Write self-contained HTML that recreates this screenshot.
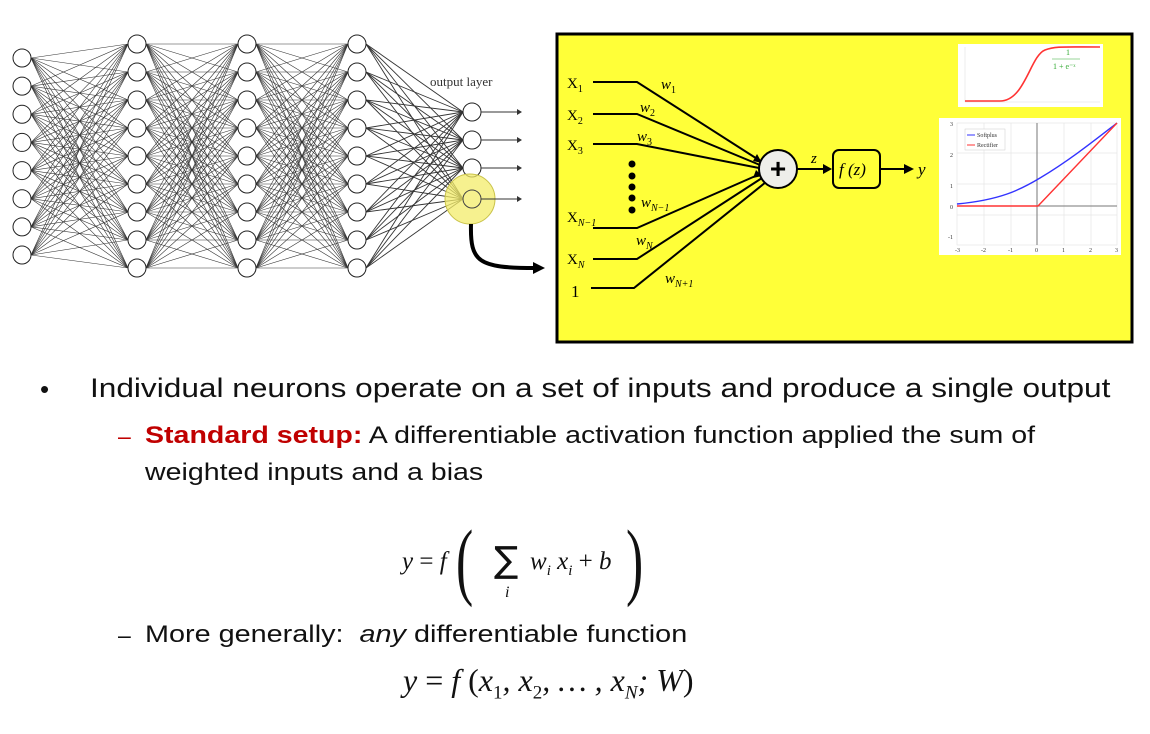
<!DOCTYPE html>
<html><head><meta charset="utf-8">
<style>
body{margin:0;width:1150px;height:734px;background:#fff;position:relative;overflow:hidden;font-family:"Liberation Sans",sans-serif;}
.t{position:absolute;white-space:nowrap;color:#111;}
.w{transform-origin:left top;}
.m{font-family:"Liberation Serif",serif;font-style:italic;}
</style></head><body>
<svg id="s" width="1150" height="734" style="position:absolute;left:0;top:0" xmlns="http://www.w3.org/2000/svg">
<g id="net" stroke="#333" stroke-width="0.6" fill="none"></g>
<g id="nodes" stroke="#222" stroke-width="1" fill="#fff"></g>
<circle cx="470" cy="199" r="25" fill="#f3ec6a" fill-opacity="0.75" stroke="#c9c24a"/>
<circle cx="472" cy="199" r="9" fill="none" stroke="#444"/>
<g stroke="#333" stroke-width="1">
<line x1="481" y1="112" x2="520" y2="112"/><line x1="481" y1="140" x2="520" y2="140"/>
<line x1="481" y1="168" x2="520" y2="168"/><line x1="481" y1="199" x2="520" y2="199"/>
</g>
<g fill="#333"><path d="M522 112l-5 -3v6z"/><path d="M522 140l-5 -3v6z"/><path d="M522 168l-5 -3v6z"/><path d="M522 199l-5 -3v6z"/></g>
<text x="430" y="86" font-family="Liberation Serif" font-size="13" fill="#333">output layer</text>
<path d="M471 224 C 470 262,478 268,535 268" stroke="#000" stroke-width="4" fill="none"/>
<path d="M545 268 l-12 -6 v12z" fill="#000"/>
<!-- yellow box -->
<rect x="557" y="34" width="575" height="308" fill="#ffff38" stroke="#000" stroke-width="3"/>
<g stroke="#000" stroke-width="2" fill="none">
<polyline points="593,82 637,82 762,162"/>
<polyline points="593,114 637,114 760,165"/>
<polyline points="593,144 637,144 759,168"/>
<polyline points="593,228 637,228 760,174"/>
<polyline points="593,259 637,259 762,178"/>
<polyline points="591,288 634,288 766,182"/>
<line x1="797" y1="169" x2="825" y2="169"/>
<line x1="880" y1="169" x2="905" y2="169"/>
</g>
<g fill="#000"><path d="M832 169l-9 -5v10z"/><path d="M914 169l-10 -5v10z"/><path d="M762 163l-9-2 4-7z"/><path d="M762 176l-9 2 3-8z"/></g>
<g fill="#000"><circle cx="632" cy="164" r="3.5"/><circle cx="632" cy="176" r="3.5"/><circle cx="632" cy="187" r="3.5"/><circle cx="632" cy="198" r="3.5"/><circle cx="632" cy="210" r="3.5"/></g>
<circle cx="778" cy="169" r="19" fill="#eeeeea" stroke="#000" stroke-width="2"/>
<text x="778" y="178" font-size="28" text-anchor="middle" font-weight="bold">+</text>
<rect x="833" y="150" width="47" height="38" rx="6" fill="#ffff38" stroke="#000" stroke-width="2"/>
<g font-family="Liberation Serif" font-size="15" fill="#000">
<text x="567" y="88">X<tspan font-size="10" dy="4">1</tspan></text>
<text x="567" y="120">X<tspan font-size="10" dy="4">2</tspan></text>
<text x="567" y="150">X<tspan font-size="10" dy="4">3</tspan></text>
<text x="567" y="222">X<tspan font-size="10" dy="4" font-style="italic">N−1</tspan></text>
<text x="567" y="264">X<tspan font-size="10" dy="4" font-style="italic">N</tspan></text>
<text x="571" y="297" font-size="17">1</text>
<g font-style="italic">
<text x="661" y="89">w<tspan font-size="10" dy="4" font-style="normal">1</tspan></text>
<text x="640" y="112">w<tspan font-size="10" dy="4" font-style="normal">2</tspan></text>
<text x="637" y="141">w<tspan font-size="10" dy="4" font-style="normal">3</tspan></text>
<text x="641" y="207">w<tspan font-size="10" dy="4">N−1</tspan></text>
<text x="636" y="245">w<tspan font-size="10" dy="4">N</tspan></text>
<text x="665" y="283">w<tspan font-size="10" dy="4">N+1</tspan></text>
<text x="811" y="163">z</text>
<text x="839" y="175" font-size="17">f (z)</text>
<text x="918" y="175" font-size="17">y</text>
</g></g>
<!-- sigmoid -->
<rect x="958" y="44" width="145" height="63" fill="#fff"/>
<g stroke="#ddd" stroke-width="0.5"><line x1="965" y1="47" x2="965" y2="102"/><line x1="965" y1="102" x2="1100" y2="102"/></g>
<path d="M965 101 L1000 101 C1025 101,1030 56,1045 50 C1055 46,1065 47,1100 47" stroke="#f33" stroke-width="1.6" fill="none"/>
<text x="1066" y="55" font-size="8" fill="#3a3" font-family="Liberation Serif">1</text>
<line x1="1052" y1="59" x2="1080" y2="59" stroke="#3a3" stroke-width="0.6"/>
<text x="1053" y="69" font-size="8" fill="#3a3" font-family="Liberation Serif">1 + e⁻ˣ</text>
<!-- relu -->
<rect x="939" y="118" width="182" height="137" fill="#fff"/>
<g stroke="#ddd" stroke-width="0.5" fill="none"><rect x="957" y="123" width="160" height="122"/>
<line x1="957" y1="153" x2="1117" y2="153"/><line x1="957" y1="184" x2="1117" y2="184"/><line x1="957" y1="215" x2="1117" y2="215"/>
<line x1="984" y1="123" x2="984" y2="245"/><line x1="1011" y1="123" x2="1011" y2="245"/><line x1="1064" y1="123" x2="1064" y2="245"/><line x1="1091" y1="123" x2="1091" y2="245"/></g>
<line x1="1037" y1="123" x2="1037" y2="245" stroke="#777"/><line x1="957" y1="206" x2="1117" y2="206" stroke="#777"/>
<path d="M957 204 C1000 200,1020 190,1040 178 C1070 160,1095 140,1117 123" stroke="#33f" stroke-width="1.4" fill="none"/>
<path d="M957 206 L1038 206 L1117 123" stroke="#f33" stroke-width="1.4" fill="none"/>
<rect x="965" y="129" width="40" height="21" fill="#fff" stroke="#ccc" stroke-width="0.5"/>
<line x1="967" y1="135" x2="975" y2="135" stroke="#33f"/><line x1="967" y1="145" x2="975" y2="145" stroke="#f33"/>
<g font-family="Liberation Serif" font-size="6" fill="#333"><text x="977" y="137">Softplus</text><text x="977" y="147">Rectifier</text>
<text x="950" y="126">3</text><text x="950" y="157">2</text><text x="950" y="188">1</text><text x="950" y="209">0</text><text x="948" y="239">-1</text>
<text x="955" y="252">-3</text><text x="981" y="252">-2</text><text x="1008" y="252">-1</text><text x="1035" y="252">0</text><text x="1062" y="252">1</text><text x="1089" y="252">2</text><text x="1115" y="252">3</text></g>
</svg>
<div class="t" style="left:40px;top:374px;font-size:26px">•</div>
<div class="t w" style="left:90px;top:373px;font-size:27px;transform:scaleX(1.17)">Individual neurons operate on a set of inputs and produce a single output</div>
<div class="t" style="left:118px;top:423px;font-size:23px;color:#c00000">–</div>
<div class="t w" style="left:145px;top:422px;font-size:24px;transform:scaleX(1.19)"><b style="color:#c00000">Standard setup:</b> A differentiable activation function applied the sum of</div>
<div class="t w" style="left:145px;top:459px;font-size:24px;transform:scaleX(1.19)">weighted inputs and a bias</div>
<div class="t m" style="left:402px;top:548px;font-size:25px">y <span style="font-style:normal">=</span> f</div>
<div class="t" style="left:456px;top:510px;font-size:86px;font-family:'Liberation Serif',serif;font-weight:100;transform:scaleX(0.6);transform-origin:left">(</div>
<div class="t" style="left:494px;top:540px;font-size:36px;font-family:'DejaVu Sans',sans-serif">∑</div>
<div class="t m" style="left:505px;top:584px;font-size:16px">i</div>
<div class="t m" style="left:530px;top:548px;font-size:25px">w<sub style="font-size:15px">i</sub> x<sub style="font-size:15px">i</sub> <span style="font-style:normal">+</span> b</div>
<div class="t" style="left:626px;top:510px;font-size:86px;font-family:'Liberation Serif',serif;transform:scaleX(0.6);transform-origin:left">)</div>
<div class="t" style="left:118px;top:622px;font-size:23px">–</div>
<div class="t w" style="left:145px;top:621px;font-size:24px;transform:scaleX(1.2)">More generally:&nbsp; <i>any</i> differentiable function</div>
<div class="t m" style="left:403px;top:662px;font-size:32px">y <span style="font-style:normal">=</span> f <span style="font-style:normal">(</span>x<sub style="font-size:19px;font-style:normal">1</sub>, x<sub style="font-size:19px;font-style:normal">2</sub>, … , x<sub style="font-size:19px">N</sub>; W<span style="font-style:normal">)</span></div>
<script>
var net=document.getElementById('net'),nodes=document.getElementById('nodes'),ns='http://www.w3.org/2000/svg';
function ys(n,a,b){var r=[];for(var i=0;i<n;i++)r.push(a+(b-a)*i/(n-1));return r;}
var L=[[22,ys(8,58,255)],[137,ys(9,44,268)],[247,ys(9,44,268)],[357,ys(9,44,268)],[472,[112,140,168,199]]];
for(var l=0;l<4;l++){var A=L[l],B=L[l+1];A[1].forEach(function(y1){B[1].forEach(function(y2){var e=document.createElementNS(ns,'line');e.setAttribute('x1',A[0]+9);e.setAttribute('y1',y1);e.setAttribute('x2',B[0]-9);e.setAttribute('y2',y2);if(l==3)e.setAttribute('stroke-width','0.9');net.appendChild(e);});});}
L.forEach(function(c,i){c[1].forEach(function(y,j){if(i==4&&j==3)return;var e=document.createElementNS(ns,'circle');e.setAttribute('cx',c[0]);e.setAttribute('cy',y);e.setAttribute('r',9);nodes.appendChild(e);});});
</script>
</body></html>
